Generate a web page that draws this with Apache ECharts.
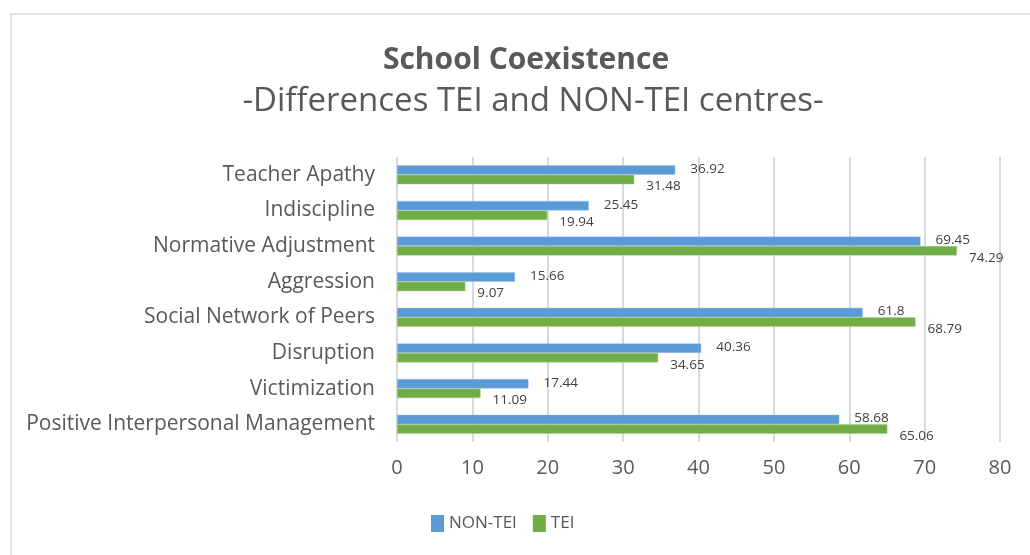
<!DOCTYPE html>
<html><head><meta charset="utf-8">
<script src="https://cdn.jsdelivr.net/npm/echarts@6/dist/echarts.min.js"></script>
<style>html,body{margin:0;padding:0;background:#fff}#c{width:1030px;height:555px}</style>
</head><body><div id="c"></div>
<script>
const categories = ["Teacher Apathy","Indiscipline","Normative Adjustment","Aggression","Social Network of Peers","Disruption","Victimization","Positive Interpersonal Management"];
const nonTEI = [36.92,25.45,69.45,15.66,61.8,40.36,17.44,58.68];
const tei = [31.48,19.94,74.29,9.07,68.79,34.65,11.09,65.06];
const xTicks = {min:0,max:80,interval:10};
const FONT = "'Open Sans', 'Noto Sans', sans-serif";
const chart = echarts.init(document.getElementById('c'));
chart.setOption({
  animation:false,
  textStyle:{fontFamily:FONT},
  graphic:[
    {type:'rect',shape:{x:11,y:14,width:1040,height:600},style:{fill:'none',stroke:'#d9d9d9',lineWidth:1.5},silent:true}
  ],
  title:[
    {text:'School Coexistence',left:521,textAlign:'center',top:40,
     textStyle:{fontFamily:FONT,fontWeight:'bold',fontSize:30,color:'#595959'}},
    {text:'-Differences TEI and NON-TEI centres-',left:528,textAlign:'center',top:80,
     textStyle:{fontFamily:FONT,fontWeight:'normal',fontSize:33,color:'#595959'}}
  ],
  legend:{
    data:[
      {name:'NON-TEI',itemStyle:{color:'#5B9BD5',borderWidth:0}},
      {name:'TEI',itemStyle:{color:'#70AD47',borderWidth:0}}
    ], top:510, left:426,
    itemWidth:13,itemHeight:17,itemGap:16,
    icon:'rect',
    textStyle:{fontFamily:FONT,fontSize:17,color:'#595959'}
  },
  grid:{left:397,right:30,top:157,bottom:113,containLabel:false},
  xAxis:{type:'value',min:xTicks.min,max:xTicks.max,interval:xTicks.interval,
    axisLine:{show:false},axisTick:{show:false},
    splitLine:{lineStyle:{color:'#d9d9d9',width:2}},
    axisLabel:{fontFamily:FONT,fontSize:20,color:'#595959',margin:16}},
  yAxis:{type:'category',data:categories,inverse:true,
    axisLine:{show:false},axisTick:{show:false},
    axisLabel:{fontFamily:FONT,fontSize:21,color:'#595959',margin:22}},
  series:[
    {name:'NON-TEI',type:'bar',data:nonTEI,barWidth:9.5,barGap:'0%',
     itemStyle:{color:'#5B9BD5',borderColor:'#9dc3e6',borderWidth:0.5},
     label:{show:true,position:'right',distance:15,offset:[0,-1],fontFamily:FONT,fontSize:13.5,color:'#404040'}},
    {name:'TEI',type:'bar',data:tei,barWidth:9.5,barGap:'0%',
     itemStyle:{color:'#70AD47',borderColor:'#a9d18e',borderWidth:0.5},
     label:{show:true,position:'right',distance:12,offset:[0,7],fontFamily:FONT,fontSize:13.5,color:'#404040'}}
  ]
});
</script></body></html>
